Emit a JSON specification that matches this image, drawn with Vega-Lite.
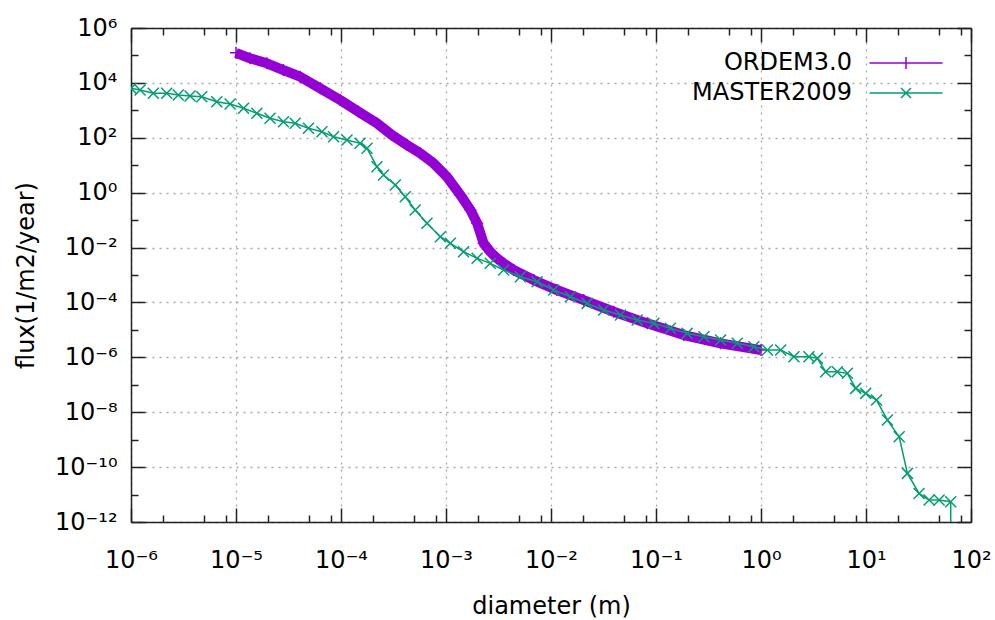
{
  "$schema": "https://vega.github.io/schema/vega-lite/v6.json",
  "width": 840,
  "height": 494,
  "autosize": "none",
  "padding": {"left": 131, "top": 28, "right": 24, "bottom": 98},
  "background": "white",
  "config": {"view": {"stroke": null}, "font": "DejaVu Sans"},
  "datasets": {
    "flux": [
      {"series": "ORDEM3.0", "diameter": 1e-5, "flux": 1.25e5},
      {"series": "ORDEM3.0", "diameter": 1.36e-5, "flux": 7.87e4},
      {"series": "ORDEM3.0", "diameter": 1.97e-5, "flux": 5.18e4},
      {"series": "ORDEM3.0", "diameter": 2.83e-5, "flux": 2.94e4},
      {"series": "ORDEM3.0", "diameter": 4.08e-5, "flux": 1.68e4},
      {"series": "ORDEM3.0", "diameter": 6.34e-5, "flux": 6.34e3},
      {"series": "ORDEM3.0", "diameter": 9.82e-5, "flux": 2.38e3},
      {"series": "ORDEM3.0", "diameter": 1.47e-4, "flux": 891},
      {"series": "ORDEM3.0", "diameter": 2.20e-4, "flux": 337},
      {"series": "ORDEM3.0", "diameter": 3.05e-4, "flux": 126},
      {"series": "ORDEM3.0", "diameter": 4.25e-4, "flux": 54.5},
      {"series": "ORDEM3.0", "diameter": 5.69e-4, "flux": 27.2},
      {"series": "ORDEM3.0", "diameter": 7.62e-4, "flux": 11.7},
      {"series": "ORDEM3.0", "diameter": 1.02e-3, "flux": 3.81},
      {"series": "ORDEM3.0", "diameter": 1.37e-3, "flux": 0.82},
      {"series": "ORDEM3.0", "diameter": 1.71e-3, "flux": 0.233},
      {"series": "ORDEM3.0", "diameter": 1.98e-3, "flux": 0.0764},
      {"series": "ORDEM3.0", "diameter": 2.28e-3, "flux": 0.0143},
      {"series": "ORDEM3.0", "diameter": 2.64e-3, "flux": 7.05e-3},
      {"series": "ORDEM3.0", "diameter": 3.06e-3, "flux": 4.05e-3},
      {"series": "ORDEM3.0", "diameter": 3.54e-3, "flux": 2.66e-3},
      {"series": "ORDEM3.0", "diameter": 4.41e-3, "flux": 1.52e-3},
      {"series": "ORDEM3.0", "diameter": 6.84e-3, "flux": 6.55e-4},
      {"series": "ORDEM3.0", "diameter": 1.14e-2, "flux": 2.83e-4},
      {"series": "ORDEM3.0", "diameter": 2.05e-2, "flux": 1.22e-4},
      {"series": "ORDEM3.0", "diameter": 3.96e-2, "flux": 4.58e-5},
      {"series": "ORDEM3.0", "diameter": 8.24e-2, "flux": 1.73e-5},
      {"series": "ORDEM3.0", "diameter": 0.184, "flux": 6.49e-6},
      {"series": "ORDEM3.0", "diameter": 0.412, "flux": 3.24e-6},
      {"series": "ORDEM3.0", "diameter": 1, "flux": 1.84e-6},
      {"series": "MASTER2009", "diameter": 1e-6, "flux": 6.34e3},
      {"series": "MASTER2009", "diameter": 1.22e-6, "flux": 5.51e3},
      {"series": "MASTER2009", "diameter": 1.63e-6, "flux": 4.17e3},
      {"series": "MASTER2009", "diameter": 2.19e-6, "flux": 4.17e3},
      {"series": "MASTER2009", "diameter": 2.82e-6, "flux": 3.61e3},
      {"series": "MASTER2009", "diameter": 3.65e-6, "flux": 3.33e3},
      {"series": "MASTER2009", "diameter": 4.72e-6, "flux": 3.13e3},
      {"series": "MASTER2009", "diameter": 6.56e-6, "flux": 2.06e3},
      {"series": "MASTER2009", "diameter": 8.79e-6, "flux": 1.70e3},
      {"series": "MASTER2009", "diameter": 1.18e-5, "flux": 1.19e3},
      {"series": "MASTER2009", "diameter": 1.58e-5, "flux": 778},
      {"series": "MASTER2009", "diameter": 2.11e-5, "flux": 512},
      {"series": "MASTER2009", "diameter": 2.83e-5, "flux": 385},
      {"series": "MASTER2009", "diameter": 3.66e-5, "flux": 337},
      {"series": "MASTER2009", "diameter": 4.90e-5, "flux": 221},
      {"series": "MASTER2009", "diameter": 6.58e-5, "flux": 166},
      {"series": "MASTER2009", "diameter": 8.49e-5, "flux": 109},
      {"series": "MASTER2009", "diameter": 1.14e-4, "flux": 82.8},
      {"series": "MASTER2009", "diameter": 1.52e-4, "flux": 62.8},
      {"series": "MASTER2009", "diameter": 1.77e-4, "flux": 41.3},
      {"series": "MASTER2009", "diameter": 2.20e-4, "flux": 8.81},
      {"series": "MASTER2009", "diameter": 2.54e-4, "flux": 4.40},
      {"series": "MASTER2009", "diameter": 3.29e-4, "flux": 1.90},
      {"series": "MASTER2009", "diameter": 4.09e-4, "flux": 0.711},
      {"series": "MASTER2009", "diameter": 5.09e-4, "flux": 0.233},
      {"series": "MASTER2009", "diameter": 6.59e-4, "flux": 0.0764},
      {"series": "MASTER2009", "diameter": 8.83e-4, "flux": 0.0248},
      {"series": "MASTER2009", "diameter": 1.10e-3, "flux": 0.0143},
      {"series": "MASTER2009", "diameter": 1.47e-3, "flux": 7.05e-3},
      {"series": "MASTER2009", "diameter": 1.98e-3, "flux": 4.05e-3},
      {"series": "MASTER2009", "diameter": 2.64e-3, "flux": 2.66e-3},
      {"series": "MASTER2009", "diameter": 3.54e-3, "flux": 1.52e-3},
      {"series": "MASTER2009", "diameter": 5.11e-3, "flux": 8.65e-4},
      {"series": "MASTER2009", "diameter": 7.38e-3, "flux": 5.68e-4},
      {"series": "MASTER2009", "diameter": 1.06e-2, "flux": 2.83e-4},
      {"series": "MASTER2009", "diameter": 1.53e-2, "flux": 1.61e-4},
      {"series": "MASTER2009", "diameter": 2.21e-2, "flux": 9.27e-5},
      {"series": "MASTER2009", "diameter": 3.18e-2, "flux": 5.28e-5},
      {"series": "MASTER2009", "diameter": 4.59e-2, "flux": 3.48e-5},
      {"series": "MASTER2009", "diameter": 6.62e-2, "flux": 2.29e-5},
      {"series": "MASTER2009", "diameter": 9.53e-2, "flux": 1.73e-5},
      {"series": "MASTER2009", "diameter": 0.137, "flux": 1.14e-5},
      {"series": "MASTER2009", "diameter": 0.198, "flux": 7.48e-6},
      {"series": "MASTER2009", "diameter": 0.286, "flux": 5.62e-6},
      {"series": "MASTER2009", "diameter": 0.412, "flux": 4.27e-6},
      {"series": "MASTER2009", "diameter": 0.594, "flux": 3.24e-6},
      {"series": "MASTER2009", "diameter": 0.855, "flux": 2.43e-6},
      {"series": "MASTER2009", "diameter": 1.15, "flux": 1.84e-6},
      {"series": "MASTER2009", "diameter": 1.54, "flux": 1.84e-6},
      {"series": "MASTER2009", "diameter": 2.06, "flux": 1.05e-6},
      {"series": "MASTER2009", "diameter": 2.86, "flux": 1.05e-6},
      {"series": "MASTER2009", "diameter": 3.44, "flux": 9.18e-7},
      {"series": "MASTER2009", "diameter": 4.13, "flux": 2.99e-7},
      {"series": "MASTER2009", "diameter": 5.33, "flux": 2.99e-7},
      {"series": "MASTER2009", "diameter": 6.65, "flux": 2.61e-7},
      {"series": "MASTER2009", "diameter": 7.98, "flux": 7.40e-8},
      {"series": "MASTER2009", "diameter": 9.93, "flux": 4.86e-8},
      {"series": "MASTER2009", "diameter": 12.6, "flux": 2.77e-8},
      {"series": "MASTER2009", "diameter": 16.0, "flux": 5.18e-9},
      {"series": "MASTER2009", "diameter": 20.7, "flux": 1.28e-9},
      {"series": "MASTER2009", "diameter": 24.8, "flux": 5.92e-11},
      {"series": "MASTER2009", "diameter": 32.0, "flux": 1.10e-11},
      {"series": "MASTER2009", "diameter": 39.9, "flux": 6.30e-12},
      {"series": "MASTER2009", "diameter": 49.7, "flux": 6.30e-12},
      {"series": "MASTER2009", "diameter": 64.1, "flux": 5.46e-12},
      {"series": "MASTER2009", "diameter": 64.1, "flux": 1e-20}
    ]
  },
  "data": {"name": "flux"},
  "layer": [
    {
      "transform": [{"filter": "datum.series === 'ORDEM3.0'"}],
      "encoding": {
        "x": {
          "field": "diameter", "type": "quantitative",
          "scale": {"type": "log", "domain": [1e-6, 100], "nice": false},
          "axis": {
            "orient": "bottom",
            "values": [1e-6, 2e-6, 5e-6, 8e-6, 1e-5, 2e-5, 5e-5, 8e-5, 1e-4, 2e-4, 5e-4, 8e-4, 1e-3, 2e-3, 5e-3, 8e-3, 1e-2, 2e-2, 5e-2, 8e-2, 0.1, 0.2, 0.5, 0.8, 1, 2, 5, 8, 10, 20, 50, 80, 100],
            "labelExpr": "abs(log(datum.value)/LN10 - round(log(datum.value)/LN10)) > 0.001 ? '' : '10' + replace(replace(replace(replace(replace(replace(replace(replace(replace(replace(replace(toString(round(log(datum.value)/LN10)),'-','⁻'),'0','⁰'),'1','¹'),'2','²'),'3','³'),'4','⁴'),'5','⁵'),'6','⁶'),'7','⁷'),'8','⁸'),'9','⁹')",
            "tickSize": {"condition": {"test": "abs(log(datum.value)/LN10 - round(log(datum.value)/LN10)) < 0.001", "value": -14}, "value": -7},
            "grid": true,
            "gridOpacity": {"condition": {"test": "abs(log(datum.value)/LN10 - round(log(datum.value)/LN10)) < 0.001", "value": 1}, "value": 0},
            "gridDash": [2, 5], "gridColor": "#a8a8a8", "gridWidth": 1.3,
            "domainColor": "#222", "domainWidth": 1.5, "tickColor": "#222", "tickWidth": 1.5,
            "labelFont": "DejaVu Sans", "labelFontSize": 24, "labelColor": "black", "labelPadding": 40,
            "labelFlush": false, "labelOverlap": false,
            "title": "diameter (m)", "titleFont": "DejaVu Sans", "titleFontSize": 24, "titleFontWeight": "normal", "titleColor": "black", "titlePadding": 15
          }
        },
        "y": {
          "field": "flux", "type": "quantitative",
          "scale": {"type": "log", "domain": [1e-12, 1e6], "nice": false},
          "axis": {
            "orient": "left",
            "values": [1e-12, 1e-11, 1e-10, 1e-9, 1e-8, 1e-7, 1e-6, 1e-5, 1e-4, 1e-3, 1e-2, 1e-1, 1, 10, 100, 1000, 1e4, 1e5, 1e6],
            "labelExpr": "(round(log(datum.value)/LN10) % 2 != 0) ? '' : '10' + replace(replace(replace(replace(replace(replace(replace(replace(replace(replace(replace(toString(round(log(datum.value)/LN10)),'-','⁻'),'0','⁰'),'1','¹'),'2','²'),'3','³'),'4','⁴'),'5','⁵'),'6','⁶'),'7','⁷'),'8','⁸'),'9','⁹')",
            "tickSize": {"condition": {"test": "round(log(datum.value)/LN10) % 2 == 0", "value": -14}, "value": -7},
            "grid": true,
            "gridOpacity": {"condition": {"test": "round(log(datum.value)/LN10) % 2 == 0", "value": 1}, "value": 0},
            "gridDash": [2, 5], "gridColor": "#a8a8a8", "gridWidth": 1.3,
            "domainColor": "#222", "domainWidth": 1.5, "tickColor": "#222", "tickWidth": 1.5,
            "labelFont": "DejaVu Sans", "labelFontSize": 24, "labelColor": "black", "labelPadding": 28,
            "labelFlush": false, "labelOverlap": false,
            "title": "flux(1/m2/year)", "titleFont": "DejaVu Sans", "titleFontSize": 24, "titleFontWeight": "normal", "titleColor": "black", "titlePadding": 16
          }
        },
        "color": {
          "field": "series", "type": "nominal",
          "scale": {"domain": ["ORDEM3.0", "MASTER2009"], "range": ["#9400d3", "#009e73"]},
          "legend": {
            "title": null, "orient": "none", "legendX": 763, "legendY": 23, "padding": 0,
            "labelFont": "DejaVu Sans", "labelFontSize": 24, "labelColor": "black",
            "labelAlign": "right", "labelOffset": -66,
            "symbolSize": 400, "symbolStrokeWidth": 1.5, "symbolFillColor": "transparent",
            "rowPadding": 6,
            "encode": {"symbols": {"update": {"shape": {"signal": "datum.value === 'ORDEM3.0' ? 'M-3.65,0L3.65,0M0,-0.6L0,0.6' : 'M-3.65,0L3.65,0M-0.5,-0.5L0.5,0.5M-0.5,0.5L0.5,-0.5'"}, "fill": {"value": "transparent"}}}}
          }
        },
        "order": {"value": null}
      },
      "layer": [
        {"mark": {"type": "line", "strokeWidth": 10, "strokeJoin": "round", "clip": true}},
        {"mark": {"type": "point", "shape": "M-1,0L1,0M0,-1L0,1", "size": 144, "strokeWidth": 1.5, "filled": false, "opacity": 1, "clip": true}}
      ]
    },
    {
      "transform": [{"filter": "datum.series === 'MASTER2009'"}],
      "encoding": {
        "x": {
          "field": "diameter", "type": "quantitative",
          "scale": {"type": "log", "domain": [1e-6, 100], "nice": false},
          "axis": {
            "orient": "top",
            "values": [1e-6, 2e-6, 5e-6, 8e-6, 1e-5, 2e-5, 5e-5, 8e-5, 1e-4, 2e-4, 5e-4, 8e-4, 1e-3, 2e-3, 5e-3, 8e-3, 1e-2, 2e-2, 5e-2, 8e-2, 0.1, 0.2, 0.5, 0.8, 1, 2, 5, 8, 10, 20, 50, 80, 100],
            "labels": false, "grid": false, "title": null,
            "tickSize": {"condition": {"test": "abs(log(datum.value)/LN10 - round(log(datum.value)/LN10)) < 0.001", "value": -14}, "value": -7},
            "domainColor": "#222", "domainWidth": 1.5, "tickColor": "#222", "tickWidth": 1.5
          }
        },
        "y": {
          "field": "flux", "type": "quantitative",
          "scale": {"type": "log", "domain": [1e-12, 1e6], "nice": false},
          "axis": {
            "orient": "right",
            "values": [1e-12, 1e-11, 1e-10, 1e-9, 1e-8, 1e-7, 1e-6, 1e-5, 1e-4, 1e-3, 1e-2, 1e-1, 1, 10, 100, 1000, 1e4, 1e5, 1e6],
            "labels": false, "grid": false, "title": null,
            "tickSize": {"condition": {"test": "round(log(datum.value)/LN10) % 2 == 0", "value": -14}, "value": -7},
            "domainColor": "#222", "domainWidth": 1.5, "tickColor": "#222", "tickWidth": 1.5
          }
        },
        "color": {
          "field": "series", "type": "nominal",
          "scale": {"domain": ["ORDEM3.0", "MASTER2009"], "range": ["#9400d3", "#009e73"]}
        },
        "order": {"value": null}
      },
      "layer": [
        {"mark": {"type": "line", "strokeWidth": 1.5, "clip": true}},
        {
          "transform": [{"filter": "datum.flux > 1e-13"}],
          "mark": {"type": "point", "shape": "M-1,-1L1,1M-1,1L1,-1", "size": 121, "strokeWidth": 1.5, "filled": false, "opacity": 1, "clip": true}
        }
      ]
    }
  ],
  "resolve": {"axis": {"x": "independent", "y": "independent"}}
}
